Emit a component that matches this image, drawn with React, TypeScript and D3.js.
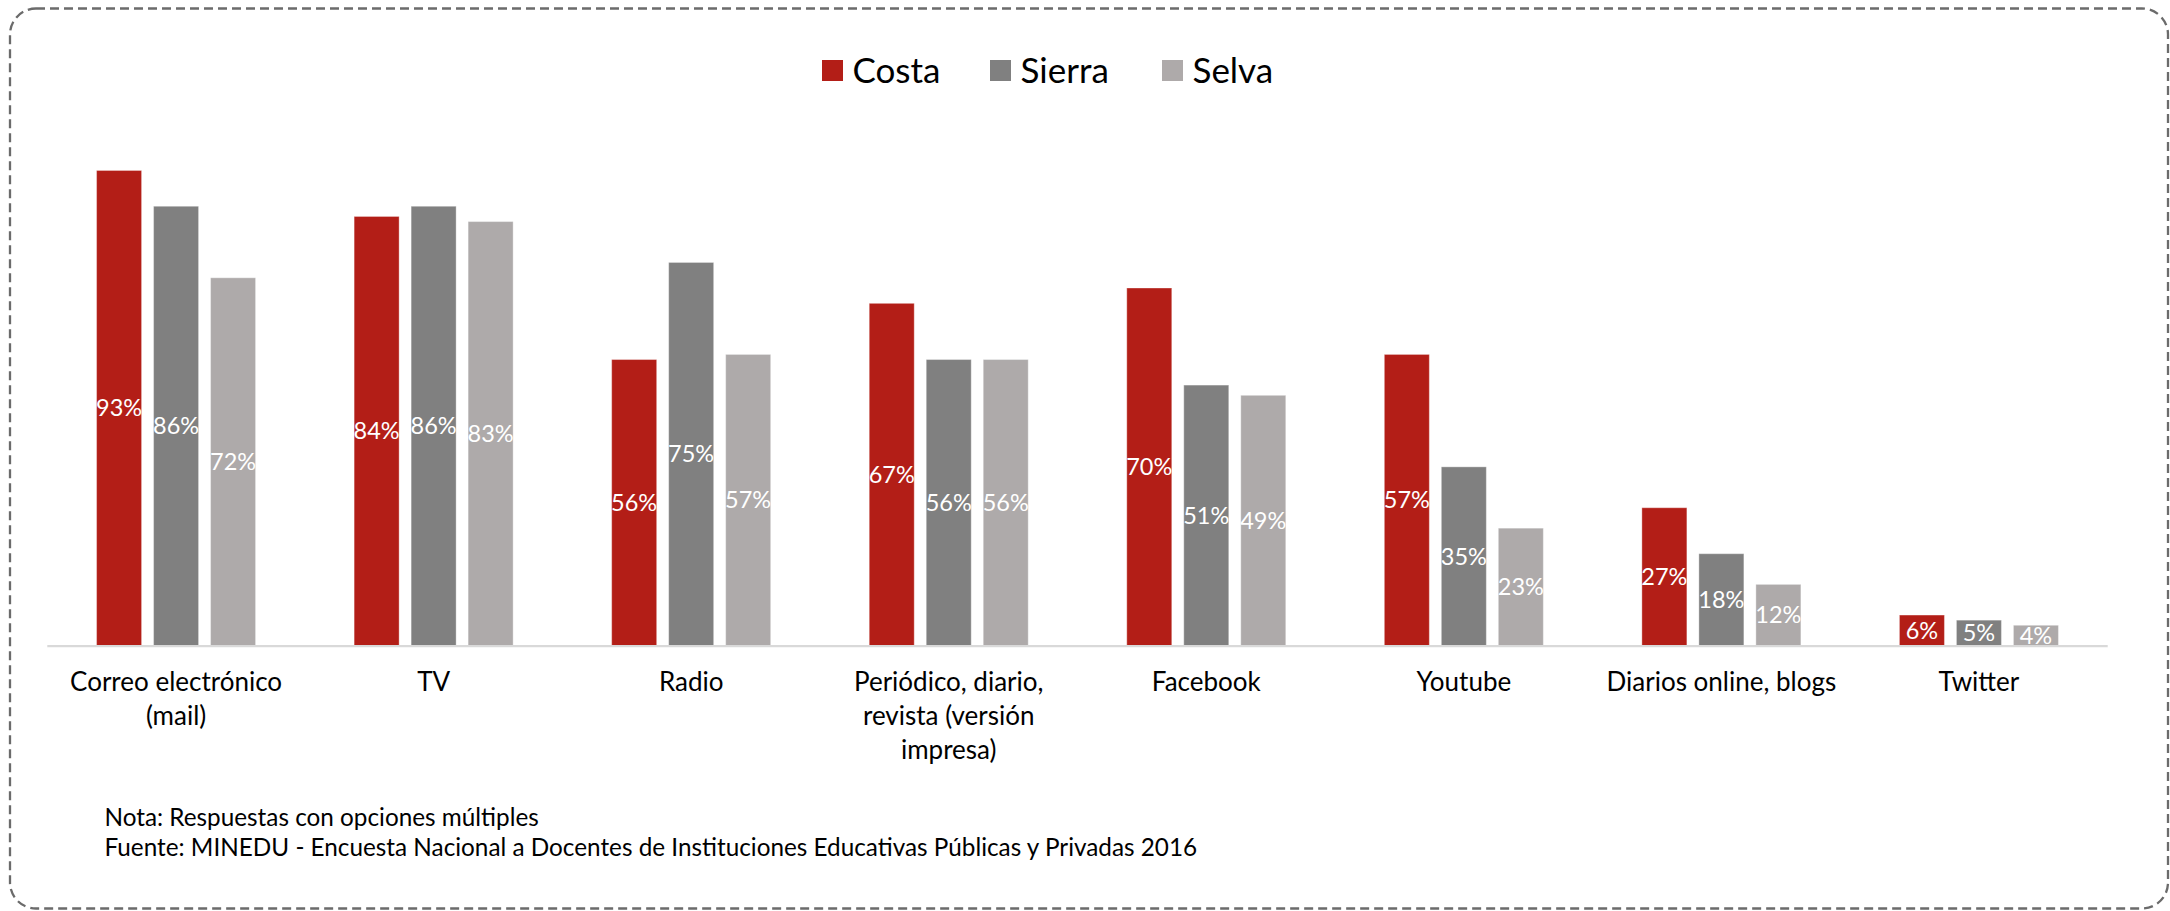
import React from "react";
import * as d3 from "d3";

const categories: string[][] = [
  ["Correo electrónico", "(mail)"],
  ["TV"],
  ["Radio"],
  ["Periódico, diario,", "revista (versión", "impresa)"],
  ["Facebook"],
  ["Youtube"],
  ["Diarios online, blogs"],
  ["Twitter"],
];
const seriesNames = ["Costa", "Sierra", "Selva"];
const costa = [0.93, 0.84, 0.56, 0.67, 0.7, 0.57, 0.27, 0.06];
const sierra = [0.86, 0.86, 0.75, 0.56, 0.51, 0.35, 0.18, 0.05];
const selva = [0.72, 0.83, 0.57, 0.56, 0.49, 0.23, 0.12, 0.04];
const seriesValues = [costa, sierra, selva];
const colors = ["#B31E17", "#808080", "#AEAAAA"];
const notes = [
  "Nota: Respuestas con opciones múltiples",
  "Fuente: MINEDU - Encuesta Nacional a Docentes de Instituciones Educativas Públicas y Privadas 2016",
];

const W = 2170;
const H = 911;
const FONT = "Lato, 'Open Sans', sans-serif";

export default function App() {
  const x0 = d3
    .scaleBand<number>()
    .domain(d3.range(categories.length))
    .range([47.3, 2107.7])
    .paddingInner(0)
    .paddingOuter(0);
  const groupW = 159;
  const x1 = d3
    .scaleBand<string>()
    .domain(seriesNames)
    .range([0, groupW])
    .paddingInner(12 / 57)
    .paddingOuter(0);
  const y = d3.scaleLinear().domain([0, 1]).range([645.7, 134.7]);
  const groupOffset = (x0.bandwidth() - groupW) / 2;
  const fmt = d3.format(".0%");

  const legendX = [822, 990, 1162];

  return (
    <svg
      width={W}
      height={H}
      style={{ position: "absolute", left: 0, top: 0, background: "#fff" }}
      fontFamily={FONT}
    >
      <rect x={0} y={0} width={W} height={H} fill="#fff" />
      <rect
        x={10}
        y={8.5}
        width={2158}
        height={900}
        rx={26}
        ry={26}
        fill="none"
        stroke="#6b6b6b"
        strokeWidth={2.3}
        strokeDasharray="9 5"
      />
      {/* legend */}
      {seriesNames.map((s, i) => (
        <g key={s}>
          <rect x={legendX[i]} y={60} width={21} height={21} fill={colors[i]} />
          <text x={legendX[i] + 30.5} y={82.7} fontSize={35} fill="#000">
            {s}
          </text>
        </g>
      ))}
      {/* bars */}
      {seriesValues.map((vals, si) =>
        vals.map((v, ci) => {
          const bx = (x0(ci) as number) + groupOffset + (x1(seriesNames[si]) as number);
          const by = y(v);
          const bh = y(0) - y(v);
          return (
            <g key={`${si}-${ci}`}>
              <rect
                x={bx}
                y={by}
                width={x1.bandwidth()}
                height={bh}
                fill={colors[si]}
                stroke="#ffffff"
                strokeOpacity={0.35}
                strokeWidth={1}
              />
              <text
                x={bx + x1.bandwidth() / 2}
                y={by + bh / 2}
                dy="0.35em"
                textAnchor="middle"
                fontSize={23.5}
                fill="#fff"
              >
                {fmt(v)}
              </text>
            </g>
          );
        })
      )}
      {/* axis line */}
      <line
        x1={x0.range()[0]}
        x2={x0.range()[1]}
        y1={y(0) + 0.5}
        y2={y(0) + 0.5}
        stroke="#d9d9d9"
        strokeWidth={2.2}
      />
      {/* category labels */}
      {categories.map((lines, ci) => (
        <text
          key={ci}
          x={(x0(ci) as number) + x0.bandwidth() / 2}
          y={690.7}
          textAnchor="middle"
          fontSize={26}
          fill="#000"
        >
          {lines.map((l, li) => (
            <tspan key={li} x={(x0(ci) as number) + x0.bandwidth() / 2} dy={li === 0 ? 0 : 34}>
              {l}
            </tspan>
          ))}
        </text>
      ))}
      {/* notes */}
      {notes.map((n, i) => (
        <text key={i} x={104.5} y={825.7 + i * 30.5} fontSize={24.3} fill="#000">
          {n}
        </text>
      ))}
    </svg>
  );
}
